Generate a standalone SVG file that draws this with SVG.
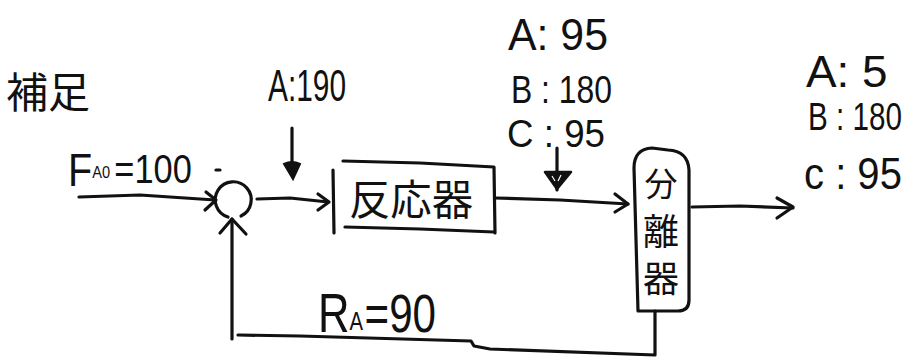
<svg xmlns="http://www.w3.org/2000/svg" width="907" height="359" viewBox="0 0 907 359">
  <style>
    .ln { fill: none; stroke: #111; stroke-width: 3.2; stroke-linecap: round; stroke-linejoin: round; }
    .t { font-family: "Liberation Sans", "DejaVu Sans", sans-serif; fill: #111; }
    .cj { font-family: "Noto Sans CJK JP", "Noto Sans CJK SC", sans-serif; fill: #111; }
  </style>
  <rect width="907" height="359" fill="#fff"/>

  <!-- header note -->
  <g id="note">
    <text class="cj" x="6" y="108" font-size="42" textLength="84" lengthAdjust="spacingAndGlyphs">補足</text>
  </g>

  <!-- fresh feed label: F with subscript A0 -->
  <g id="feed-label">
    <text class="t" transform="translate(68,186) scale(0.86,1)" font-size="46">F<tspan font-size="17" dy="-8">A0</tspan><tspan font-size="40" dx="5" dy="5">=100</tspan></text>
    <line class="ln" x1="216" y1="170" x2="220" y2="170"/>
  </g>

  <!-- mixing point -->
  <g id="mixer">
    <path class="ln" d="M 228,217 A 18,18 0 1 1 241,216"/>
  </g>

  <!-- reactor -->
  <g id="reactor">
    <path class="ln" d="M 333,170 L 334,233"/>
    <path class="ln" d="M 343,161 L 420,163 L 494,167 L 495,233"/>
    <path class="ln" d="M 345,227 L 420,229 L 494,232"/>
    <text class="cj" x="349" y="215" font-size="42" textLength="124" lengthAdjust="spacingAndGlyphs">反応器</text>
  </g>

  <!-- separator -->
  <g id="separator">
    <path class="ln" d="M 638,311 L 634,168 Q 634,149 652,148 L 668,150 Q 688,151 689,170 L 689,300 Q 689,311 678,311 Z"/>
    <text class="cj" x="661" y="196" font-size="33" text-anchor="middle">分</text>
    <text class="cj" x="661" y="245" font-size="36" text-anchor="middle">離</text>
    <text class="cj" x="661" y="292" font-size="36" text-anchor="middle">器</text>
  </g>

  <!-- side feed of A to reactor -->
  <g id="feed-a">
    <text class="t" x="268" y="101" font-size="44" textLength="78" lengthAdjust="spacingAndGlyphs">A:190</text>
  </g>

  <!-- reactor outlet composition -->
  <g id="reactor-out">
    <text class="t" x="508" y="50" font-size="45" textLength="100" lengthAdjust="spacingAndGlyphs">A: 95</text>
    <text class="t" x="511" y="103" font-size="39" textLength="101" lengthAdjust="spacingAndGlyphs">B : 180</text>
    <text class="t" x="507" y="147" font-size="39" textLength="98" lengthAdjust="spacingAndGlyphs">C : 95</text>
  </g>

  <!-- product composition -->
  <g id="product">
    <text class="t" transform="translate(806,87) scale(1.02,1)" font-size="45">A: 5</text>
    <text class="t" transform="translate(808,130) scale(0.78,1)" font-size="38">B : 180</text>
    <text class="t" transform="translate(804,189) scale(0.91,1)" font-size="44">c : 95</text>
  </g>

  <!-- recycle label: R with subscript A -->
  <g id="recycle-label">
    <text class="t" transform="translate(318,332) scale(0.78,1)" font-size="56">R<tspan font-size="26" dy="-2">A</tspan><tspan font-size="54" dx="2" dy="2">=90</tspan></text>
  </g>

  <!-- connectors -->
  <g id="connectors">
    <!-- fresh feed into mixer -->
    <path class="ln" d="M 79,197 L 140,195 L 215,200"/>
    <path class="ln" d="M 206,192 L 216,200 L 205,210"/>
    <!-- mixer to reactor -->
    <path class="ln" d="M 257,199 L 290,198 L 328,202"/>
    <path class="ln" d="M 318,194 L 329,202 L 318,210"/>
    <!-- A feed into reactor inlet -->
    <path class="ln" d="M 292,128 L 292,172"/>
    <path d="M 284,164 Q 292,160 300,164 L 293,179 Z" fill="#111" stroke="#111" stroke-width="2"/>
    <!-- reactor to separator -->
    <path class="ln" d="M 495,198 L 560,200 L 628,204"/>
    <path class="ln" d="M 615,194 L 628,204 L 615,212"/>
    <!-- marker above reactor outlet -->
    <path class="ln" d="M 557,148 L 557,190"/>
    <path d="M 545,172 L 571,172 L 557,189 Z" fill="#111" stroke="#111" stroke-width="2.5" stroke-linejoin="round"/>
    <path d="M 552,176 L 555,181 M 561,175 L 558,181" stroke="#fff" stroke-width="1.2"/>
    <!-- separator to product -->
    <path class="ln" d="M 692,207 L 740,206 L 793,208"/>
    <path class="ln" d="M 777,198 L 793,207 L 777,218"/>
    <!-- recycle back to mixer -->
    <path class="ln" d="M 655,311 L 655,355 L 490,349 L 474,346 L 471,341 L 300,336 L 238,335"/>
    <path class="ln" d="M 232,339 L 232,219"/>
    <path class="ln" d="M 220,233 L 232,219 L 246,234"/>
  </g>
</svg>
